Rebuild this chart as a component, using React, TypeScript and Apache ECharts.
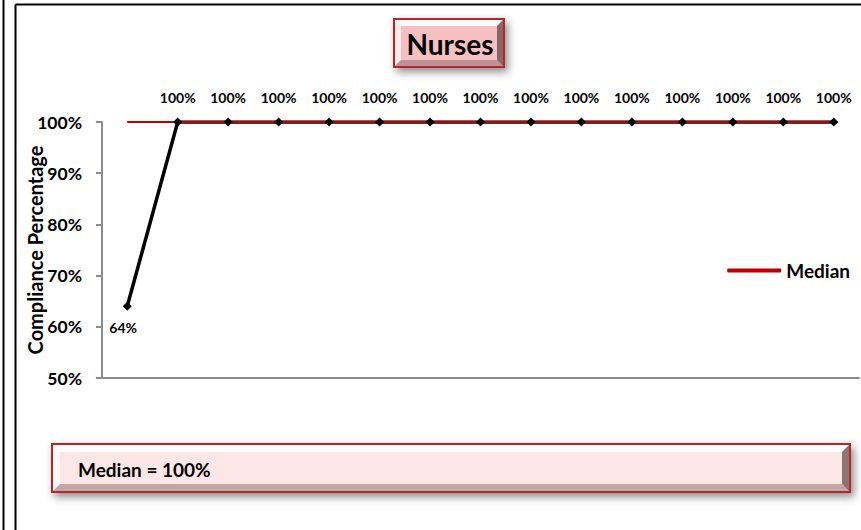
import React, { useEffect, useRef } from "react";
import * as echarts from "echarts";

const categories = ["1", "2", "3", "4", "5", "6", "7", "8", "9", "10", "11", "12", "13", "14", "15"];
const compliance = [64, 100, 100, 100, 100, 100, 100, 100, 100, 100, 100, 100, 100, 100, 100];
const medianValues = [100, 100, 100, 100, 100, 100, 100, 100, 100, 100, 100, 100, 100, 100, 100];
const titleText = "Nurses";
const medianText = "Median = 100%";
const yAxisName = "Compliance Percentage";

const FONT = "Lato, 'Open Sans', sans-serif";

function bevelBox(x: number, y: number, w: number, h: number, fill: string, b: number, z: number) {
  return [
    {
      type: "rect",
      z,
      shape: { x, y, width: w, height: h },
      style: {
        fill,
        stroke: "#b8282a",
        lineWidth: 2,
        shadowBlur: 8,
        shadowOffsetX: 3,
        shadowOffsetY: 4,
        shadowColor: "rgba(0,0,0,0.45)",
      },
    },
    {
      type: "polygon",
      z: z + 1,
      shape: { points: [[x + 1, y + 1], [x + w - 1, y + 1], [x + w - 1 - b, y + 1 + b], [x + 1 + b, y + 1 + b]] },
      style: { fill: "rgba(255,255,255,0.95)" },
    },
    {
      type: "polygon",
      z: z + 1,
      shape: { points: [[x + 1, y + 1], [x + 1 + b, y + 1 + b], [x + 1 + b, y + h - 1 - b], [x + 1, y + h - 1]] },
      style: { fill: "rgba(255,255,255,0.7)" },
    },
    {
      type: "polygon",
      z: z + 1,
      shape: { points: [[x + 1, y + h - 1], [x + 1 + b, y + h - 1 - b], [x + w - 1 - b, y + h - 1 - b], [x + w - 1, y + h - 1]] },
      style: { fill: "rgba(120,90,90,0.45)" },
    },
    {
      type: "polygon",
      z: z + 1,
      shape: { points: [[x + w - 1, y + 1], [x + w - 1 - b, y + 1 + b], [x + w - 1 - b, y + h - 1 - b], [x + w - 1, y + h - 1]] },
      style: { fill: "rgba(70,40,40,0.6)" },
    },
  ];
}

export default function App() {
  const ref = useRef<HTMLDivElement>(null);
  useEffect(() => {
    if (!ref.current) return;
    const chart = echarts.init(ref.current, null, { renderer: "svg" });
    const labelStyle = {
      fontFamily: FONT,
      fontWeight: "bold",
      fontSize: 14,
      color: "#000",
    };
    const option: any = {
      animation: false,
      backgroundColor: "#ffffff",
      grid: { left: 102, right: 2, top: 122, bottom: 152, containLabel: false, outerBoundsMode: "none" },
      legend: {
        data: [{ name: "Median" }],
        right: 6,
        top: 256,
        icon: "roundRect",
        itemWidth: 54,
        itemHeight: 4,
        itemGap: 6,
        textStyle: { fontFamily: FONT, fontWeight: "bold", fontSize: 19, color: "#000" },
      },
      xAxis: {
        type: "category",
        data: categories,
        boundaryGap: true,
        axisLine: { lineStyle: { color: "#8c8c8c", width: 2 } },
        axisTick: { show: false },
        axisLabel: { show: false },
        splitLine: { show: false },
      },
      yAxis: {
        type: "value",
        min: 50,
        max: 100,
        interval: 10,
        name: yAxisName,
        nameLocation: "middle",
        nameRotate: 90,
        nameGap: 57,
        nameMoveOverlap: false,
        nameTextStyle: { fontFamily: FONT, fontWeight: "bold", fontSize: 20, color: "#000" },
        axisLine: { show: true, lineStyle: { color: "#8c8c8c", width: 2 } },
        axisTick: { show: true, length: 6, lineStyle: { color: "#8c8c8c", width: 2 } },
        axisLabel: {
          margin: 20,
          formatter: (v: number) => v + "%",
          fontFamily: FONT,
          fontWeight: "bold",
          fontSize: 17.5,
          color: "#000",
        },
        splitLine: { show: false },
      },
      series: [
        {
          name: "Compliance",
          type: "line",
          data: compliance,
          symbol: "none",
          lineStyle: { color: "#000", width: 3.5 },
          itemStyle: { color: "#000" },
          z: 2,
        },
        {
          name: "Median",
          type: "line",
          data: medianValues,
          symbol: "none",
          lineStyle: { color: "#c00000", width: 2 },
          itemStyle: { color: "#c00000" },
          z: 3,
        },
        {
          name: "Compliance points",
          type: "line",
          data: compliance.map((v, i) => ({
            value: v,
            label: i === 0 ? { position: "bottom", distance: 10, offset: [-4, 0] } : undefined,
          })),
          symbol: "diamond",
          symbolSize: 9,
          lineStyle: { opacity: 0 },
          itemStyle: { color: "#000" },
          label: {
            show: true,
            position: "top",
            distance: 13,
            formatter: (p: any) => p.value + "%",
            ...labelStyle,
          },
          z: 4,
        },
      ],
      graphic: [
        { type: "line", shape: { x1: 3.5, y1: 0, x2: 3.5, y2: 530 }, style: { stroke: "#000", lineWidth: 2 } },
        { type: "line", shape: { x1: 15.5, y1: 4.5, x2: 15.5, y2: 530 }, style: { stroke: "#000", lineWidth: 2 } },
        { type: "line", shape: { x1: 15.5, y1: 4.5, x2: 861, y2: 4.5 }, style: { stroke: "#000", lineWidth: 2 } },
        ...bevelBox(394, 19, 110, 48, "#f6c0c0", 6, 10),
        {
          type: "text",
          z: 20,
          x: 450,
          y: 44,
          style: {
            text: titleText,
            fill: "#000",
            font: `bold 28px ${FONT}`,
            align: "center",
            verticalAlign: "middle",
          },
        },
        ...bevelBox(52, 444, 798, 48, "#fde6e6", 7, 10),
        {
          type: "text",
          z: 20,
          x: 78,
          y: 469,
          style: {
            text: medianText,
            fill: "#000",
            font: `bold 19px ${FONT}`,
            align: "left",
            verticalAlign: "middle",
          },
        },
      ],
    };
    chart.setOption(option);
    return () => chart.dispose();
  }, []);
  return (
    <div
      ref={ref}
      style={{ position: "fixed", left: 0, top: 0, width: 861, height: 530, background: "#fff" }}
    />
  );
}
